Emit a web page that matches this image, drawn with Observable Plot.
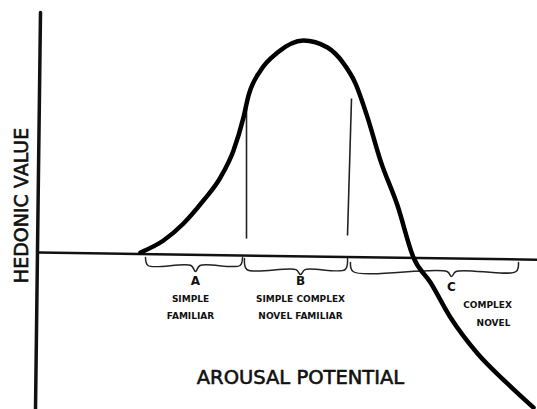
<!DOCTYPE html>
<html>
<head>
<meta charset="utf-8">
<script src="https://cdn.jsdelivr.net/npm/d3@7"></script>
<script src="https://cdn.jsdelivr.net/npm/@observablehq/plot@0.6"></script>
<style>
  html, body { margin: 0; padding: 0; background: #fff; }
  svg { display: block; }
</style>
</head>
<body>
<div id="chart"></div>
<script>
// Wundt curve: hedonic value vs arousal potential
const arousal = [20.4, 25, 29, 33, 36.4, 39, 41, 42, 44.4, 47.8, 53, 57.8, 61, 63.4, 65.8, 68.4, 71.8, 75, 78.4, 82.4, 87.8, 93.8, 99];
const hedonic = [0, 5, 12.1, 21.7, 31.3, 42.5, 56.3, 65.4, 75.8, 83.3, 88.3, 85.4, 78.8, 70.4, 56.3, 38.3, 19.6, -2.1, -12.5, -27.1, -42.1, -54.6, -64.6];

// hand-drawn axes (slightly tilted in the scan)
const baselineX = [0, 99.8];
const baselineY = [0, -3];
const axisX = [0.4, -0.6];
const axisY = [100, -65.4];

// thin vertical lines marking region boundaries
const dividerX1 = [41.6, 62.6];
const dividerY1 = [60, 64.2];
const dividerX2 = [41.6, 61.8];
const dividerY2 = [5.8, 7.1];

// regions under the baseline
const regions = ["A", "B", "C"];
const regionStart = [21.4, 41.2, 62.4];
const regionEnd = [40.8, 61.8, 96];
const regionMid = [31.4, 52.4, 82.6];
const braceTop = [-2.1, -2.5, -4.2];
const braceBar = [-5.4, -7.1, -7.9];
const braceTip = [-7.9, -9.2, -10];
const letterY = [-12.1, -12.1, -14.6];
const descLine1 = ["SIMPLE", "SIMPLE COMPLEX", "COMPLEX"];
const descLine2 = ["FAMILIAR", "NOVEL FAMILIAR", "NOVEL"];
const descX1 = [30.4, 52.4, 89.8];
const descX2 = [30.4, 52.4, 91];
const descY1 = [-19.6, -19.6, -22.1];
const descY2 = [-26.3, -26.3, -29.2];

const xTitle = "AROUSAL POTENTIAL";
const yTitle = "HEDONIC VALUE";

const curve = arousal.map((x, i) => ({x, y: hedonic[i]}));
const baseline = baselineX.map((x, i) => ({x, y: baselineY[i]}));
const yAxisLine = axisX.map((x, i) => ({x, y: axisY[i]}));
const dividers = dividerX1.map((x1, i) => ({x1, y1: dividerY1[i], x2: dividerX2[i], y2: dividerY2[i]}));

const braces = [];
regions.forEach((r, i) => {
  const s = regionStart[i], e = regionEnd[i], m = regionMid[i];
  const pts = [
    [s, braceTop[i]], [s + 0.5, braceBar[i]], [m - 0.9, braceBar[i]], [m, braceTip[i]],
    [m + 0.9, braceBar[i]], [e - 0.5, braceBar[i]], [e, braceTop[i]]
  ];
  pts.forEach(([x, y]) => braces.push({region: r, x, y}));
});
const letters = regions.map((r, i) => ({r, x: regionMid[i], y: letterY[i]}));
const desc = regions.flatMap((r, i) => [
  {t: descLine1[i], x: descX1[i], y: descY1[i]},
  {t: descLine2[i], x: descX2[i], y: descY2[i]}
]);

const chart = Plot.plot({
  width: 537,
  height: 409,
  margin: 0,
  style: {background: "#fff", fontFamily: "DejaVu Sans, sans-serif"},
  x: {domain: [-7.6, 99.8], axis: null},
  y: {domain: [-65.4, 105], axis: null},
  marks: [
    Plot.line(baseline, {x: "x", y: "y", stroke: "#111", strokeWidth: 2.5}),
    Plot.line(yAxisLine, {x: "x", y: "y", stroke: "#111", strokeWidth: 3.5}),
    Plot.link(dividers, {x1: "x1", y1: "y1", x2: "x2", y2: "y2", stroke: "#222", strokeWidth: 1.6}),
    Plot.line(braces, {x: "x", y: "y", z: "region", stroke: "#222", strokeWidth: 1.5, curve: "catmull-rom"}),
    Plot.line(curve, {x: "x", y: "y", stroke: "#000", strokeWidth: 4.5, curve: "monotone-x"}),
    Plot.text(letters, {x: "x", y: "y", text: "r", fontSize: 12, fontWeight: "bold", fill: "#111"}),
    Plot.text(desc, {x: "x", y: "y", text: "t", fontSize: 9, fontWeight: "bold", fill: "#111", ariaLabel: "desc"}),
    Plot.text([xTitle], {x: [52.4], y: [-52], text: d => d, fontSize: 19.5, fill: "#111", stroke: "#111", strokeWidth: 0.6, ariaLabel: "xtitle"}),
    Plot.text([yTitle], {x: [-3.4], y: [19.6], text: d => d, fontSize: 19, rotate: -90, fill: "#111", stroke: "#111", strokeWidth: 0.6, ariaLabel: "ytitle"})
  ]
});
document.getElementById("chart").appendChild(chart);
d3.select(chart).selectAll('g[aria-label="desc"] text').style("letter-spacing", "1.2px");
</script>
</body>
</html>
